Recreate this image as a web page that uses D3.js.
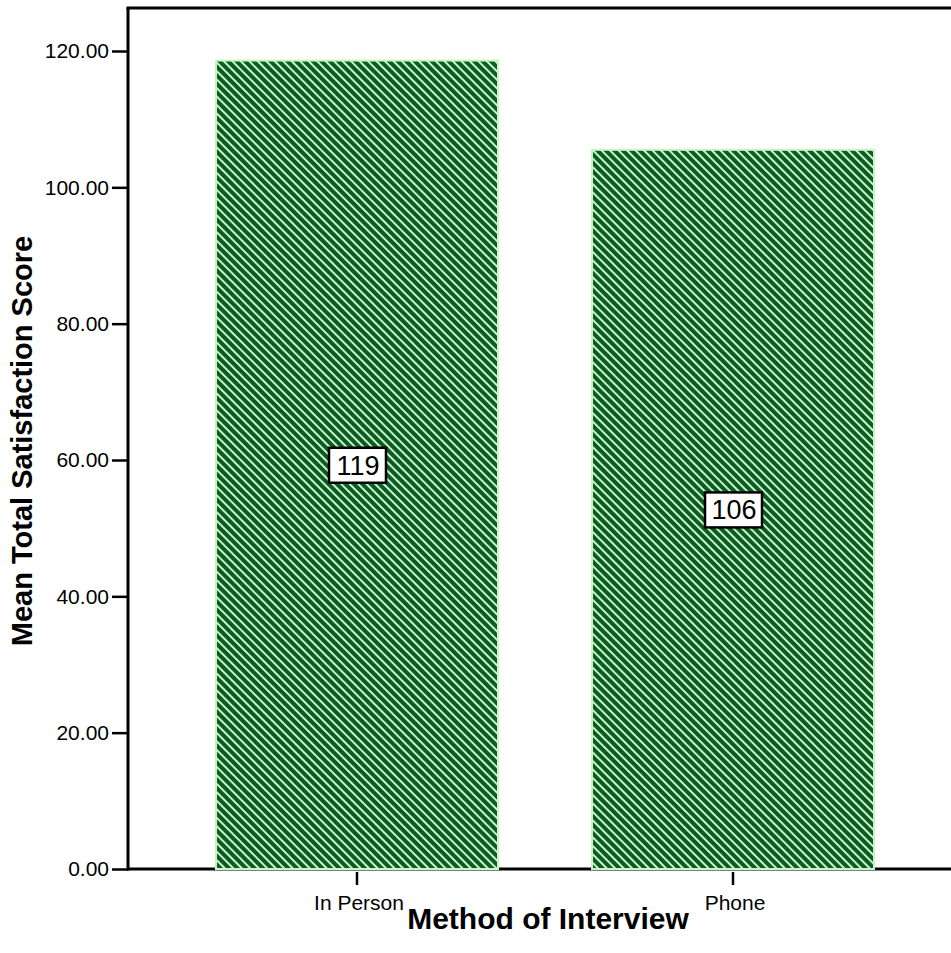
<!DOCTYPE html>
<html>
<head>
<meta charset="utf-8">
<script src="https://cdn.jsdelivr.net/npm/d3@7/dist/d3.min.js"></script>
<style>
  html, body { margin: 0; padding: 0; background: #fff; }
  svg { display: block; font-family: Arial, "Liberation Sans", sans-serif; }
</style>
</head>
<body>
<svg id="chart" width="951" height="953"></svg>
<script>
// Mean total satisfaction score by interview method
const categories = ["In Person", "Phone"];
const meanScores = [118.6, 105.5];
const yTicks = [0, 20, 40, 60, 80, 100, 120];

const svg = d3.select("#chart");
const plotLeft = 128, plotRight = 962, plotTop = 8, plotBottom = 869;
const fontFamily = "Arial, 'Liberation Sans', sans-serif";

const x = d3.scaleBand()
  .domain(categories)
  .range([plotLeft, plotRight])
  .paddingInner(0.25)
  .paddingOuter(0.234);

const y = d3.scaleLinear()
  .domain([0, 120])
  .range([plotBottom, 51]);

// diagonal hatch fill
const defs = svg.append("defs");
const pat = defs.append("pattern")
  .attr("id", "hatch")
  .attr("patternUnits", "userSpaceOnUse")
  .attr("width", 6)
  .attr("height", 6)
  .attr("patternTransform", "rotate(-45)");
pat.append("rect").attr("width", 6).attr("height", 6).attr("fill", "#0b5a28");
pat.append("rect").attr("width", 2).attr("height", 6).attr("fill", "#c8f6c0");

// frame: top border
svg.append("line")
  .attr("x1", plotLeft - 1.5).attr("x2", 951)
  .attr("y1", plotTop).attr("y2", plotTop)
  .attr("stroke", "#000").attr("stroke-width", 3);

// y axis
const yAxis = svg.append("g")
  .attr("transform", `translate(${plotLeft},0)`)
  .call(d3.axisLeft(y).tickValues(yTicks).tickFormat(d3.format(".2f")).tickSize(16).tickPadding(3));
yAxis.select(".domain").attr("stroke", "#000").attr("stroke-width", 3)
  .attr("d", `M0,${plotTop}V${plotBottom + 1.5}`);
yAxis.selectAll(".tick line").attr("stroke", "#000").attr("stroke-width", 2.5);
yAxis.selectAll(".tick text").attr("font-size", 21).attr("fill", "#000")
  .attr("font-family", fontFamily);

// x axis
const xAxis = svg.append("g")
  .attr("transform", `translate(0,${plotBottom})`)
  .call(d3.axisBottom(x).tickSize(16).tickPadding(10));
xAxis.select(".domain").attr("stroke", "#000").attr("stroke-width", 3)
  .attr("d", `M${plotLeft},0H${951}`);
xAxis.selectAll(".tick line").attr("stroke", "#000").attr("stroke-width", 2.5).attr("y1", 3);
xAxis.selectAll(".tick text").attr("font-size", 21).attr("fill", "#000")
  .attr("font-family", fontFamily).attr("x", 2);

// bars, drawn over the baseline
svg.selectAll("rect.bar")
  .data(categories)
  .join("rect")
  .attr("class", "bar")
  .attr("x", d => x(d))
  .attr("width", x.bandwidth())
  .attr("y", (d, i) => y(meanScores[i]))
  .attr("height", (d, i) => y(0) - y(meanScores[i]))
  .attr("fill", "url(#hatch)")
  .attr("stroke", "#c8f6c0")
  .attr("stroke-width", 2);

// value labels at bar midpoints
const labels = svg.selectAll("g.vlabel")
  .data(categories)
  .join("g")
  .attr("class", "vlabel")
  .attr("transform", (d, i) => `translate(${x(d) + x.bandwidth() / 2},${y(meanScores[i] / 2)})`);
labels.append("rect")
  .attr("x", -28).attr("y", -17).attr("width", 57).attr("height", 35)
  .attr("fill", "#fff").attr("stroke", "#000").attr("stroke-width", 2.5);
labels.append("text")
  .attr("text-anchor", "middle")
  .attr("x", 1)
  .attr("dy", "0.36em")
  .attr("font-size", 27)
  .attr("fill", "#000")
  .text((d, i) => Math.round(meanScores[i]));

// axis titles
svg.append("text")
  .attr("x", (plotLeft + plotRight) / 2 + 3).attr("y", 929)
  .attr("text-anchor", "middle")
  .attr("font-size", 30).attr("font-weight", "bold")
  .text("Method of Interview");

svg.append("text")
  .attr("transform", `translate(32,441) rotate(-90)`)
  .attr("text-anchor", "middle")
  .attr("font-size", 29).attr("font-weight", "bold")
  .text("Mean Total Satisfaction Score");
</script>
</body>
</html>
